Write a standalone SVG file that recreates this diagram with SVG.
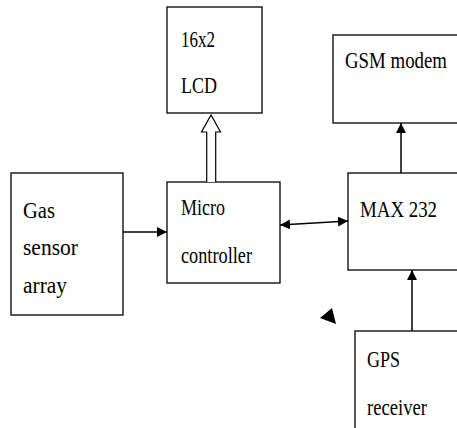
<svg xmlns="http://www.w3.org/2000/svg" width="457" height="428" viewBox="0 0 457 428">
<style>
.box{fill:#fff;stroke:#000;stroke-width:1.3}
.ln{fill:none;stroke:#000;stroke-width:1.5}
</style>
<defs>
<marker id="ah" viewBox="0 0 10 10" refX="10" refY="5" markerWidth="10" markerHeight="10" markerUnits="userSpaceOnUse" orient="auto-start-reverse">
<path d="M0,0 L10,5 L0,10 Z" fill="#000"/>
</marker>
</defs>
<rect width="457" height="428" fill="#fff"/>
<g font-family="Liberation Serif, Times New Roman, serif" font-size="23" fill="#000">
<g id="lcd">
<rect class="box" x="167" y="7" width="95" height="106"/>
<text x="181" y="47" textLength="34" lengthAdjust="spacingAndGlyphs">16x2</text>
<text x="181" y="93" textLength="36" lengthAdjust="spacingAndGlyphs">LCD</text>
</g>
<g id="gsm">
<rect class="box" x="333" y="35" width="140" height="88"/>
<text x="345" y="68" textLength="102" lengthAdjust="spacingAndGlyphs">GSM modem</text>
</g>
<g id="gas">
<rect class="box" x="11" y="173" width="112" height="142"/>
<text x="23" y="218" textLength="32" lengthAdjust="spacingAndGlyphs">Gas</text>
<text x="23" y="255" textLength="55" lengthAdjust="spacingAndGlyphs">sensor</text>
<text x="23" y="293" textLength="44" lengthAdjust="spacingAndGlyphs">array</text>
</g>
<g id="micro">
<rect class="box" x="167" y="182" width="113" height="101"/>
<text x="181" y="215" textLength="44" lengthAdjust="spacingAndGlyphs">Micro</text>
<text x="181" y="263" textLength="71" lengthAdjust="spacingAndGlyphs">controller</text>
</g>
<g id="max">
<rect class="box" x="348" y="173" width="125" height="97"/>
<text x="360" y="217" textLength="77" lengthAdjust="spacingAndGlyphs">MAX 232</text>
</g>
<g id="gps">
<rect class="box" x="355" y="331" width="120" height="110"/>
<text x="367" y="367" textLength="33" lengthAdjust="spacingAndGlyphs">GPS</text>
<text x="367" y="415" textLength="60" lengthAdjust="spacingAndGlyphs">receiver</text>
</g>
</g>
<g id="connectors">
<path d="M206.7,182 V132 H201.5 L211,115 L220.5,132 H215.7 V182" fill="#fff" stroke="#000" stroke-width="1.2"/>
<line class="ln" x1="123" y1="232" x2="167" y2="232" marker-end="url(#ah)"/>
<line class="ln" x1="280" y1="225" x2="348" y2="221" marker-start="url(#ah)" marker-end="url(#ah)"/>
<line class="ln" x1="401" y1="173" x2="401" y2="123" marker-end="url(#ah)"/>
<line class="ln" x1="412" y1="331" x2="412" y2="270" marker-end="url(#ah)"/>
<path d="M320,318 L332,308 L336,324 Z" fill="#000"/>
</g>
</svg>
